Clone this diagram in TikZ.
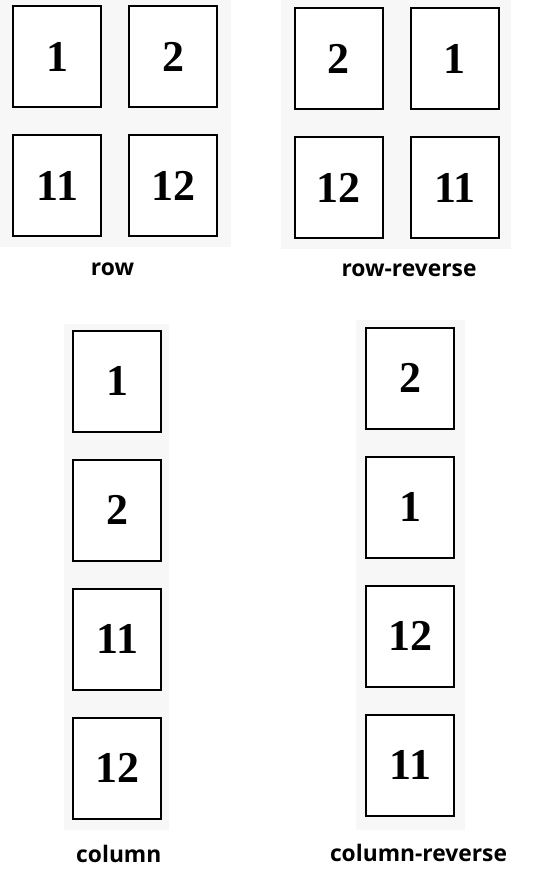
\documentclass[tikz,border=0pt]{standalone}
\usepackage{fontspec}
\setmainfont{Liberation Serif}
\newfontfamily\labelfont{Open Sans}
\usetikzlibrary{positioning}
\definecolor{panelgray}{HTML}{F7F7F7}

\begin{document}
\begin{tikzpicture}[
  x=1pt, y=-1pt,
  node distance=26pt and 26pt,
  item/.style={
    draw, rectangle, fill=white, line width=2pt,
    minimum width=88pt, minimum height=101pt, inner sep=0pt,
    font=\fontsize{44}{44}\selectfont\bfseries
  },
  caption/.style={
    anchor=base, inner sep=0pt,
    font=\labelfont\fontsize{22.8}{22.8}\selectfont\bfseries
  }
]
  \useasboundingbox (0,0) rectangle (536,888);

  % grey containers
  \fill[panelgray] (0,0) rectangle (231,247);
  \fill[panelgray] (281,0) rectangle (510.7,249);
  \fill[panelgray] (64,324) rectangle (169.3,829.8);
  \fill[panelgray] (356,320) rectangle (464.7,829.5);

  % row
  \node[item] (row1) at (57.3,56.8) {1};
  \node[item] (row2) [right=of row1] {2};
  \node[item] (row11) [below=of row1] {11};
  \node[item] (row12) [below=of row2] {12};
  \node[caption] (rowlbl) at (112.5,275) {row};

  % row-reverse
  \node[item] (rr2) at (338.8,58.7) {2};
  \node[item] (rr1) [right=of rr2] {1};
  \node[item] (rr12) [below=of rr2] {12};
  \node[item] (rr11) [below=of rr1] {11};
  \node[caption] (rrlbl) at (409,276.5) {row-reverse};

  % column
  \node[item] (col1) at (117.3,381.4) {1};
  \node[item] (col2) [below=of col1] {2};
  \node[item] (col11) [below=of col2] {11};
  \node[item] (col12) [below=of col11] {12};
  \node[caption] (collbl) at (118.8,862.5) {column};

  % column-reverse
  \node[item] (cr2) at (410.3,378.2) {2};
  \node[item] (cr1) [below=of cr2] {1};
  \node[item] (cr12) [below=of cr1] {12};
  \node[item] (cr11) [below=of cr12] {11};
  \node[caption] (crlbl) at (418.5,861.7) {column-reverse};
\end{tikzpicture}
\end{document}
